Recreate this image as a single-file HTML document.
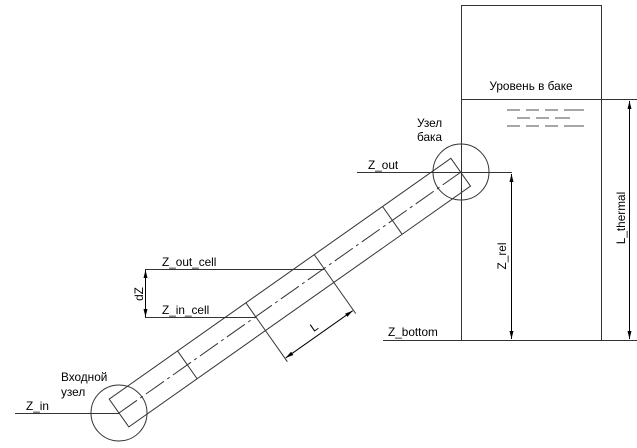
<!DOCTYPE html>
<html><head><meta charset="utf-8"><style>
html,body{margin:0;padding:0;background:#fff;}
svg{display:block;font-family:"Liberation Sans",sans-serif;font-size:11.8px;}
</style></head><body>
<svg width="637" height="448" viewBox="0 0 637 448" xmlns="http://www.w3.org/2000/svg">
<defs>
<marker id="a" markerWidth="8" markerHeight="6" refX="8" refY="3" orient="auto-start-reverse" markerUnits="userSpaceOnUse">
<path d="M0,1 L8,3 L0,5 Z" fill="#000"/></marker>
</defs>
<g stroke="#333" stroke-width="1" fill="none">
<path d="M461.5,340 V5.5 H601.5 V340"/>
<path d="M461.5,99.5 H637"/>
<path d="M383,340.5 H637"/>
<path d="M357,172.5 H512"/>
<path d="M15,413.5 H119"/>
<path d="M145,269.5 H324"/>
<path d="M145,317.5 H256"/>
<circle cx="461" cy="172" r="28"/>
<circle cx="119" cy="413" r="28"/>
</g>
<g stroke="#888" stroke-width="1.5">
<path d="M507,110 H520 M526,110 H539 M545,110 H558 M564,110 H584"/>
<path d="M517,118 H530 M536,118 H549 M555,118 H570"/>
<path d="M507,126 H520 M526,126 H539 M545,126 H558 M564,126 H584"/>
</g>
<g stroke="#000" stroke-width="1" fill="none">
<line x1="511.5" y1="174" x2="511.5" y2="339" marker-start="url(#a)" marker-end="url(#a)"/>
<line x1="629.5" y1="101" x2="629.5" y2="339" marker-start="url(#a)" marker-end="url(#a)"/>
<line x1="145.5" y1="270" x2="145.5" y2="317" marker-start="url(#a)" marker-end="url(#a)"/>
</g>
<g transform="translate(119,413) rotate(-35.17)">
<g stroke="#333" stroke-width="1" fill="none">
<rect x="0" y="-17" width="418" height="34"/>
<line x1="0" y1="0" x2="418" y2="0" stroke-dasharray="22,4,3,4"/>
<line x1="83.6" y1="-17" x2="83.6" y2="17"/>
<line x1="167.2" y1="-17" x2="167.2" y2="55"/>
<line x1="250.8" y1="-17" x2="250.8" y2="55"/>
<line x1="334.4" y1="-17" x2="334.4" y2="17"/>
</g>
<line x1="168" y1="51" x2="250" y2="51" stroke="#000" marker-start="url(#a)" marker-end="url(#a)"/>
<text x="209" y="46" text-anchor="middle" fill="#000">L</text>
</g>
<g fill="#000">
<text x="531" y="90" text-anchor="middle">Уровень в баке</text>
<text x="417" y="127">Узел</text>
<text x="417" y="141">бака</text>
<text x="368" y="169">Z_out</text>
<text x="388" y="336">Z_bottom</text>
<text x="61" y="381">Входной</text>
<text x="61" y="396">узел</text>
<text x="26" y="410">Z_in</text>
<text x="162" y="266">Z_out_cell</text>
<text x="162" y="314">Z_in_cell</text>
<text transform="translate(143,294) rotate(-90)" text-anchor="middle">dZ</text>
<text transform="translate(506,256) rotate(-90)" text-anchor="middle">Z_rel</text>
<text transform="translate(625,218) rotate(-90)" text-anchor="middle">L_thermal</text>
</g>
</svg>
</body></html>
